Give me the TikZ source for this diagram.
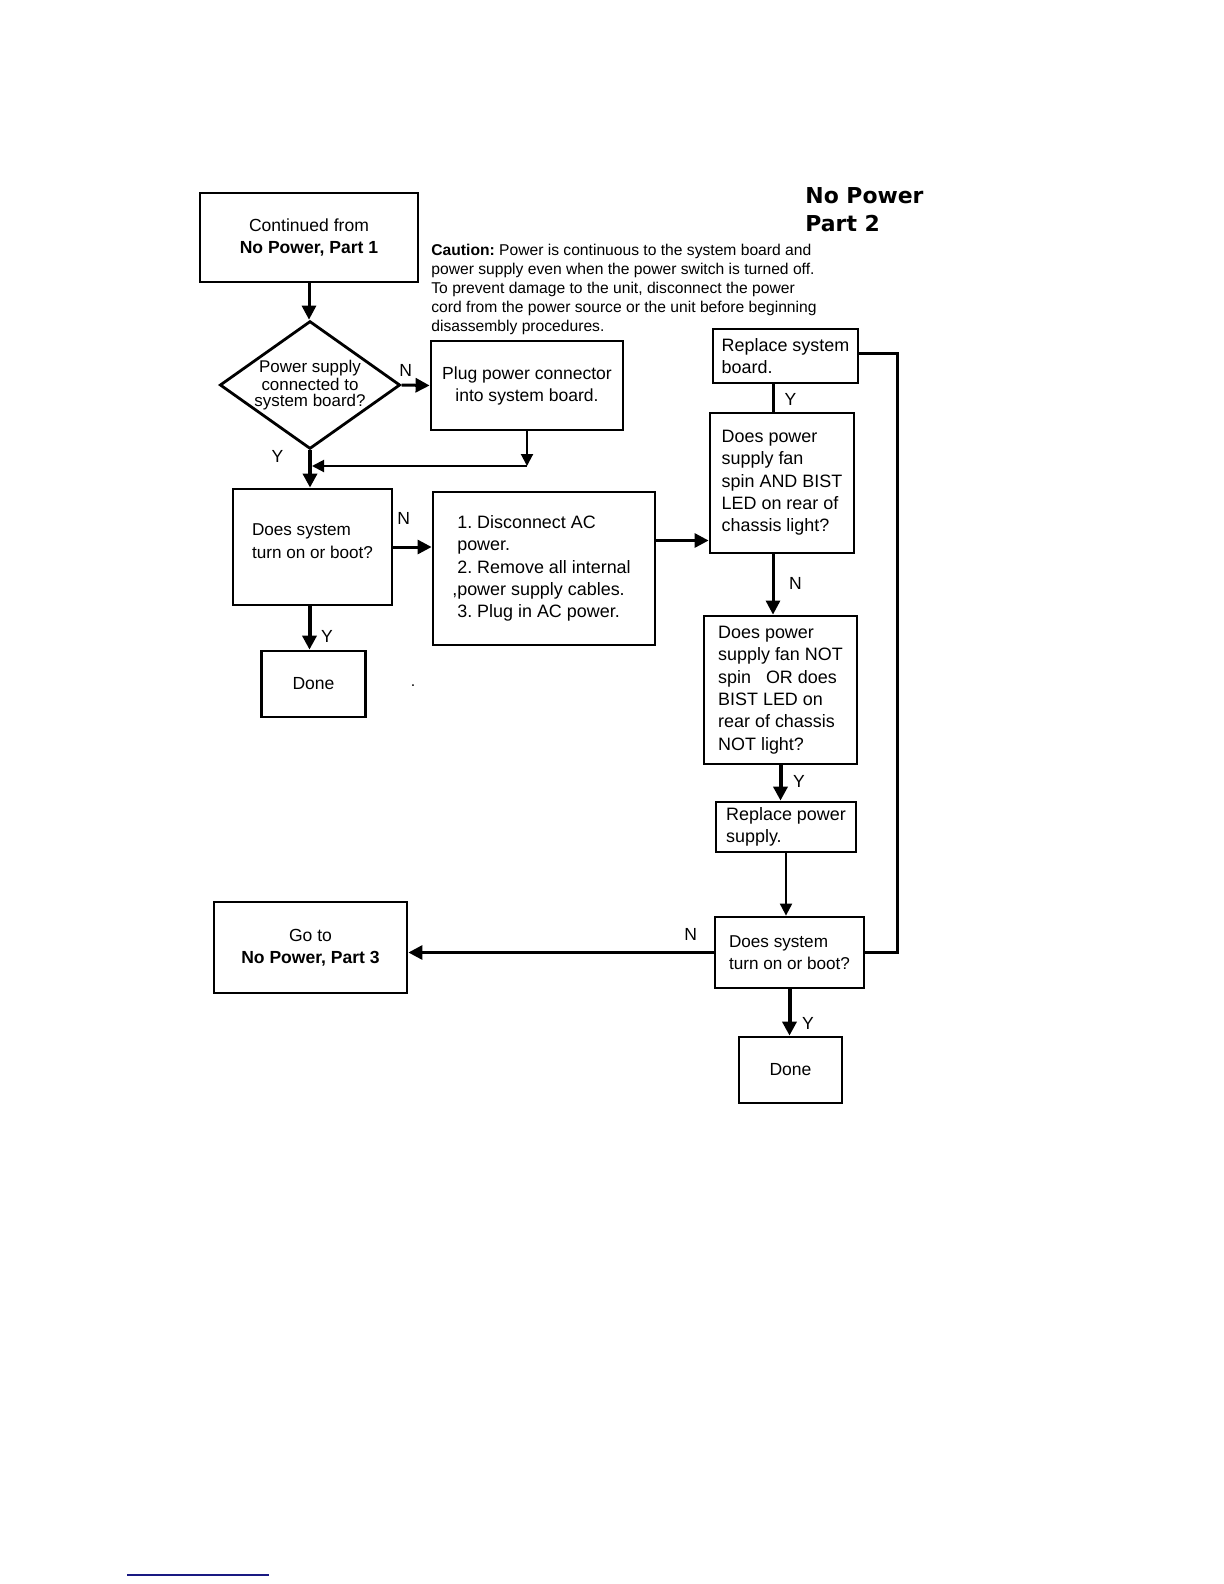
\documentclass[tikz,border=0pt]{standalone}
\usepackage{fontspec}
\setmainfont{Liberation Sans}
\newfontfamily\headfont{DejaVu Sans}
\usetikzlibrary{shapes.geometric, arrows.meta}
\definecolor{rulenavy}{RGB}{25,25,130}
\frenchspacing

\begin{document}
\begin{tikzpicture}[x=0.5bp, y=-0.5bp,
    box/.style={draw, line width=1.4bp, inner sep=0pt, align=center, font=\fontsize{8.8}{11}\selectfont},
    lbox/.style={draw, line width=1.4bp, inner sep=0pt, align=left, font=\fontsize{9}{11.2}\selectfont},
    decision/.style={diamond, aspect=1.41, draw, line width=1.4bp, inner sep=0pt, minimum width=89bp, minimum height=63bp, align=center, font=\fontsize{8.5}{7.8}\selectfont},
    arr/.style={line width=1.5bp, -{Triangle[length=7bp, width=7bp]}},
    thinarr/.style={line width=1bp, -{Triangle[length=6bp, width=6bp]}},
    fatarr/.style={line width=2bp, -{Triangle[length=7bp, width=7bp]}},
    lbl/.style={font=\fontsize{8.8}{10}\selectfont}]
    \useasboundingbox (0,0) rectangle (1224,1584);

    % Title and caution note
    \node[anchor=north west, inner sep=0pt, align=left, font=\headfont\bfseries\fontsize{11}{14}\selectfont] (title) at (805,187) {No Power\\Part 2};
    \node[anchor=north west, inner sep=0pt, align=left, font=\fontsize{7.85}{9.55}\selectfont] (caution) at (431,244)
        {\textbf{Caution:} Power is continuous to the system board and\\
         power supply even when the power switch is turned off.\\
         To prevent damage to the unit, disconnect the power\\
         cord from the power source or the unit before beginning\\
         disassembly procedures.};

    % Left column
    \node[box, minimum width=109bp, minimum height=44.5bp] (start) at (309,237.5) {Continued from\\\textbf{No Power, Part 1}};
    \node[decision] (conn) at (310,385) {Power supply\\connected to\\system board?};
    \node[box, minimum width=96bp, minimum height=44.5bp] (plug) at (527,385.5) {Plug power connector\\into system board.};
    \node[lbox, minimum width=79.5bp, minimum height=58bp, font=\fontsize{8.6}{11.2}\selectfont, text depth=6bp] (boot1) at (312.5,547) {Does system\\turn on or boot?};
    \node[lbox, minimum width=111bp, minimum height=76.5bp] (steps) at (544,568.5)
        {1. Disconnect AC\\power.\\2. Remove all internal\\\llap{,}power supply cables.\\3. Plug in AC power.};
    \node[box, minimum width=52bp, minimum height=33bp] (done1) at (313.5,684) {Done};
    \node[inner sep=0pt, font=\fontsize{8}{8}\selectfont] (dot) at (413,686) {.};
    \node[box, minimum width=96.5bp, minimum height=45.5bp] (goto3) at (310.5,947.5) {Go to\\\textbf{No Power, Part 3}};

    % Right column
    \node[lbox, minimum width=72.5bp, minimum height=27bp] (rsb) at (785.5,356) {Replace system\\board.};
    \node[lbox, minimum width=72bp, minimum height=70bp] (fan) at (782,483)
        {Does power\\supply fan\\spin AND BIST\\LED on rear of\\chassis light?};
    \node[lbox, minimum width=76.5bp, minimum height=74bp] (nofan) at (780.5,690)
        {Does power\\supply fan NOT\\spin\ \ \ OR does\\BIST LED on\\rear of chassis\\NOT light?};
    \node[lbox, minimum width=70bp, minimum height=25bp] (rps) at (786,827) {Replace power\\supply.};
    \node[lbox, minimum width=74.5bp, minimum height=35.5bp, font=\fontsize{8.6}{11.2}\selectfont] (boot2) at (789.5,952.5) {Does system\\turn on or boot?};
    \node[box, minimum width=51.5bp, minimum height=33bp] (done2) at (790.5,1070) {Done};

    % Connectors, left column
    \draw[arr] (start.south) -- (start.south |- conn.north);
    \draw[arr] (conn.east) -- node[lbl, above, pos=0.15] {N} (plug.west);
    \draw[fatarr] (conn.south) -- node[lbl, left=9bp, pos=0.17] {Y} (conn.south |- boot1.north);
    \coordinate (merge) at (312,466);
    \draw[thinarr] (plug.south) -- (plug.south |- merge);
    \draw[thinarr] (plug.south |- merge) -- (merge);
    \draw[arr] (boot1.east) -- node[lbl, above=7bp, pos=0.27] {N} (boot1.east -| steps.west);
    \draw[fatarr] ([xshift=-1.5bp]boot1.south) -- node[lbl, right=1.5bp, pos=0.7] {Y} ([xshift=-1.5bp]boot1.south |- done1.north);
    \draw[arr] ([yshift=14bp]steps.east) -- ([yshift=14bp]steps.east -| fan.west);

    % Connectors, right column
    \draw[line width=1.5bp] ([xshift=-6bp]rsb.south) -- node[lbl, right=1.5bp, pos=0.57] {Y} ([xshift=-6bp]rsb.south |- fan.north);
    \draw[arr] ([xshift=-4.5bp]fan.south) -- node[lbl, right=4bp, pos=0.48] {N} ([xshift=-4.5bp]fan.south |- nofan.north);
    \draw[fatarr] (nofan.south) -- node[lbl, right=2bp, pos=0.47] {Y} (nofan.south |- rps.north);
    \draw[thinarr] (rps.south) -- (rps.south |- boot2.north);
    \draw[line width=1.5bp] ([yshift=1.5bp]rsb.east) -- ++(19bp,0) |- (boot2.east);
    \draw[arr] (boot2.west) -- node[lbl, above=2bp, pos=0.075] {N} (boot2.west -| goto3.east);
    \draw[fatarr] (boot2.south) -- node[lbl, right=2bp, pos=0.73] {Y} (boot2.south |- done2.north);

    % Rule at foot of page
    \draw[rulenavy, line width=1bp] (127,1575) -- (269,1575);
\end{tikzpicture}
\end{document}
